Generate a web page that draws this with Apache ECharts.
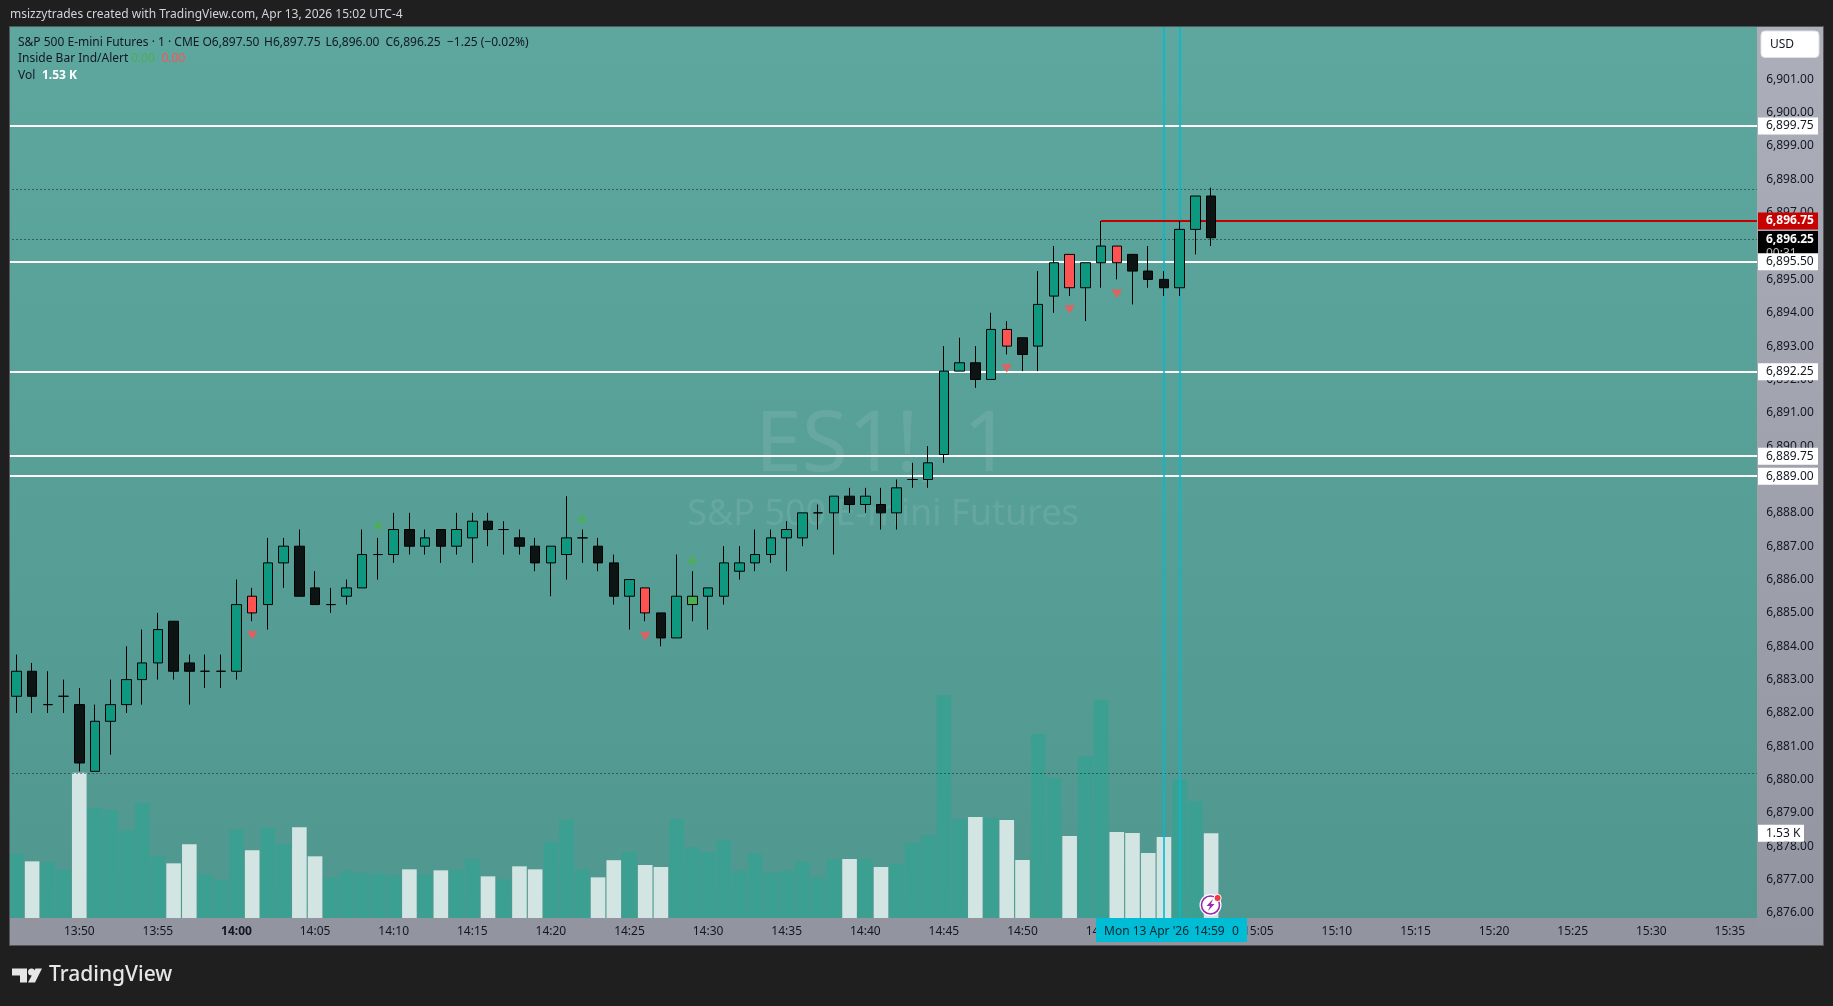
<!DOCTYPE html>
<html><head><meta charset="utf-8"><title>ES1! 1</title>
<style>html,body{margin:0;padding:0;background:#1f1f1f}#c{width:1833px;height:1006px}</style>
<script src="https://cdn.jsdelivr.net/npm/echarts@6/dist/echarts.min.js"></script></head>
<body><div id="c"></div>
<script>
// ---- data (one entry per 1-minute bar, first bar 13:46) ----
const opens=[6882.5,6883.25,6882.25,6882.5,6882.25,6880.25,6881.75,6882.25,6883,6883.5,6884.75,6883.5,6883.25,6883.25,6883.25,6885.5,6885.25,6886.5,6887,6885.75,6885.25,6885.5,6885.75,6886.75,6886.75,6887.5,6887,6887.5,6887,6887.25,6887.75,6887.5,6887.25,6887,6886.5,6886.75,6887.25,6887,6886.5,6885.5,6885.75,6885,6884.25,6885.25,6885.5,6885.5,6886.25,6886.5,6886.75,6887.25,6887.25,6888,6888,6888.5,6888.25,6888.25,6888,6889,6889,6889.75,6892.25,6892.5,6892,6893.5,6893.25,6893,6894.5,6895.75,6894.75,6895.5,6896,6895.75,6895.25,6895,6894.75,6896.5,6897.5];
const closes=[6883.25,6882.5,6882.25,6882.5,6880.5,6881.75,6882.25,6883,6883.5,6884.5,6883.25,6883.25,6883.25,6883.25,6885.25,6885,6886.5,6887,6885.5,6885.25,6885.25,6885.75,6886.75,6886.75,6887.5,6887,6887.25,6887,6887.5,6887.75,6887.5,6887.5,6887,6886.5,6887,6887.25,6887.25,6886.5,6885.5,6886,6885,6884.25,6885.5,6885.5,6885.75,6886.5,6886.5,6886.75,6887.25,6887.5,6888,6888,6888.5,6888.25,6888.5,6888,6888.75,6889,6889.5,6892.25,6892.5,6892,6893.5,6893,6892.75,6894.25,6895.5,6894.75,6895.5,6896,6895.5,6895.25,6895,6894.75,6896.5,6897.5,6896.25];
const lows=[6882,6882,6882,6882,6880.25,6880.25,6880.75,6882,6882.25,6883,6883,6882.25,6882.75,6882.75,6883,6884.75,6884.5,6885.75,6885.5,6885.25,6885,6885.25,6885.75,6886,6886.5,6886.75,6886.75,6886.5,6886.75,6886.5,6887,6886.75,6886.75,6886.25,6885.5,6886,6886.5,6886.25,6885.25,6884.5,6884.75,6884,6884.25,6884.75,6884.5,6885.25,6886,6886.25,6886.5,6886.25,6887,6887.5,6886.75,6888,6888,6887.5,6887.5,6888.75,6888.75,6889.5,6892.25,6891.75,6892,6892.75,6892.25,6892.25,6894,6894.5,6893.75,6894.75,6895,6894.25,6894.75,6894.5,6894.5,6895.75,6896];
const highs=[6883.75,6883.5,6883.25,6883,6882.75,6882.25,6883,6884,6884.5,6885,6884.75,6883.75,6883.75,6883.75,6886,6885.75,6887.25,6887.25,6887.5,6886.25,6885.75,6886,6887.5,6887.25,6888,6888,6887.5,6887.5,6888,6888,6888,6887.75,6887.5,6887.25,6887,6888.5,6887.5,6887.25,6886.75,6886,6885.75,6885,6886.75,6886.25,6885.75,6887,6887,6887.5,6887.5,6887.75,6888,6888.25,6888.5,6888.75,6888.75,6888.75,6889,6889.5,6890,6893,6893.25,6893,6894,6893.75,6893.25,6895.25,6896,6895.75,6895.5,6896.75,6896,6895.75,6896,6895.25,6896.75,6897.5,6897.75];
const volumes=[1150,1023,1005,861,2625,1987,1957,1583,2071,1114,987,1330,789,680,1595,1222,1631,1330,1637,1114,728,843,807,800,770,879,789,861,861,1060,752,698,933,879,1373,1776,873,734,1044,1192,957,921,1788,1276,1192,1415,849,1162,813,849,1023,740,1066,1066,1066,921,981,1348,1493,4027,1788,1824,1812,1770,1047,3323,2534,1481,2926,3937,1553,1535,1174,1463,2492,2107,1530];
const redBodies=[15,40,63,67,70];
const greenBodies=[43];
const downMarkers=[[15,6884.33],[40,6884.3],[63,6892.33],[67,6894.1],[70,6894.57]];
const upMarkers=[[23,6887.65],[36,6887.85],[43,6886.6]];
const whiteLevels=[6899.6,6895.53,6892.23,6889.7,6889.1];
const whiteLevelLabels=['6,899.75','6,895.50','6,892.25','6,889.75','6,889.00'];
const dottedLevels=[6897.7,6896.2,6880.2];
const redLevel=6896.75, lastPrice=6896.2, lastVolume=1530;
const crossBars=[73,74];
const barCount=112, firstMinute=13*60+46;
const categories=Array.from({length:barCount},(_,i)=>{const m=firstMinute+i;return String(Math.floor(m/60)).padStart(2,'0')+':'+String(m%60).padStart(2,'0');});
const legendTitle='S&P 500 E-mini Futures · 1 · CME';
const legendOHLC=['O6,897.50','H6,897.75','L6,896.00','C6,896.25','−1.25 (−0.02%)'];

// ---- layout ----
const F='"Noto Sans",sans-serif', DARK='#131722';
const band=15.72, gridL=8.54, gridW=band*barCount;
const priceMin=6875, priceMax=6903, pxPerPt=33.35, priceTop=79.3-2*pxPerPt, priceBottom=79.3+26*pxPerPt;
const TEAL='#0f9880', BLACK='#0d1414', RED='#ff5252', GREEN='#4caf50';

const candleData=opens.map((o,i)=>{
  const c=closes[i];
  let fill=c>=o?TEAL:BLACK;
  if(redBodies.includes(i))fill=RED;
  if(greenBodies.includes(i))fill=GREEN;
  return {value:[o,c,lows[i],highs[i]],itemStyle:{color:fill,color0:fill,borderColor:'#000',borderColor0:'#000',borderColorDoji:'#000',borderWidth:1}};
});
const volData=volumes.map((v,i)=>({value:v,itemStyle:{color:closes[i]<opens[i]?'#d2e5e2':'#3b9f92'}}));

const tags=[
 ...whiteLevels.map((p,i)=>({p,text:whiteLevelLabels[i],bg:'#fff',fg:DARK,bold:false})),
 {p:redLevel,text:'6,896.75',bg:'#c70000',fg:'#fff',bold:true}
];
function tagRender(params,api){
  const t=tags[params.dataIndex], y=api.coord([0,t.p])[1];
  return {type:'group',children:[
    {type:'rect',shape:{x:1758,y:y-8.5,width:60,height:17},style:{fill:t.bg}},
    {type:'text',style:{x:1766,y:y,text:t.text,fill:t.fg,font:(t.bold?'bold ':'')+'12px '+F,textVerticalAlign:'middle'}}
  ]};
}
function lastRender(params,api){
  const y=api.coord([0,lastPrice])[1];
  return {type:'group',children:[
    {type:'rect',shape:{x:1758,y:y-8.5,width:60,height:31},style:{fill:'#000'}},
    {type:'text',style:{x:1766,y:y,text:'6,896.25',fill:'#fff',font:'bold 12px '+F,textVerticalAlign:'middle'}},
    {type:'text',style:{x:1766,y:y+14,text:'00:31',fill:'#bdbdbd',font:'12px '+F,textVerticalAlign:'middle'}}
  ]};
}
function volTagRender(params,api){
  const y=api.coord([0,lastVolume])[1];
  return {type:'group',children:[
    {type:'rect',shape:{x:1758,y:y-8.5,width:46,height:17},style:{fill:'#fff'}},
    {type:'text',style:{x:1766,y:y,text:'1.53 K',fill:DARK,font:'12px '+F,textVerticalAlign:'middle'}}
  ]};
}
const T=(x,y,text,fill,font,extra)=>Object.assign({type:'text',z:70,silent:true,style:{x,y,text,fill,font:font||('12px '+F),textVerticalAlign:'middle'}},extra||{});
const R=(x,y,w,h,fill,z,r)=>({type:'rect',z:z,silent:true,shape:{x,y,width:w,height:h,r:r||0},style:{fill}});
const grad=(a,b)=>({type:'linear',x:0,y:0,x2:0,y2:1,colorStops:[{offset:0,color:a},{offset:1,color:b}]});

const graphics=[
 R(10,27,1747,891,grad('#5ea79f','#50988f'),-10),
 T(883,447,'ES1!, 1','rgba(255,255,255,0.09)','84px '+F,{z:-5,style:{x:883,y:447,text:'ES1!, 1',fill:'rgba(255,255,255,0.09)',font:'84px '+F,textAlign:'center',textVerticalAlign:'middle'}}),
 T(883,515,'','',null,{z:-5,style:{x:883,y:515,text:'S&P 500 E-mini Futures',fill:'rgba(255,255,255,0.09)',font:'36px '+F,textAlign:'center',textVerticalAlign:'middle'}}),
 // frame and axis panels sit above the marks and below the axis text
 R(0,0,1833,26,'#1f1f1f',40), R(0,26,1833,1,'#555',40),
 R(0,0,9,1006,'#1f1f1f',40), R(9,26,1,920,'#555',40),
 R(0,946,1833,60,'#1f1f1f',40), R(9,945,1815,1,'#555',40),
 R(1824,0,9,1006,'#1f1f1f',40), R(1823,26,1,920,'#555',40),
 R(1757,27,66,918,grad('#acafba','#92959f'),41),
 R(10,918,1747,27,'#92959f',41),
 {type:'rect',z:62,silent:true,shape:{x:1761,y:31,width:58,height:26.5,r:4},style:{fill:'#fff',stroke:'#dfe1e6',lineWidth:1}},
 T(1770,44.5,'USD',DARK),
 // crosshair date box
 R(1096,918,151,24,'#00bcd4',62),
 T(1104,932,"Mon 13 Apr '26",'#0b2530'),T(1194,932,'14:59','#0b2530'),T(1232,932,'0','#0b2530'),
 // header
 T(10,15,'msizzytrades created with TradingView.com, Apr 13, 2026 15:02 UTC-4','#d1d4dc'),
 T(18,42.5,legendTitle,DARK),
 T(202.5,42.5,legendOHLC[0],DARK),T(264,42.5,legendOHLC[1],DARK),T(325.5,42.5,legendOHLC[2],DARK),T(385.5,42.5,legendOHLC[3],DARK),T(447,42.5,legendOHLC[4],DARK),
 T(18,59,'Inside Bar Ind/Alert',DARK),T(131,59,'0.00',GREEN),T(161.5,59,'0.00',RED),
 T(18,76,'Vol',DARK),T(42,76,'1.53 K','#fff','bold 12px '+F),
 // flash icon
 {type:'circle',z:63,silent:true,shape:{cx:1210.5,cy:905,r:11},style:{fill:'#fff'}},
 {type:'circle',z:64,silent:true,shape:{cx:1210.5,cy:905,r:9},style:{fill:'#fff',stroke:'#9c27b0',lineWidth:1.6}},
 {type:'polygon',z:65,silent:true,shape:{points:[[1213,899],[1206.5,906],[1210,906],[1208,911],[1214.5,904],[1211,904]]},style:{fill:'#9c27b0'}},
 {type:'circle',z:66,silent:true,shape:{cx:1217.6,cy:898,r:3.6},style:{fill:'#f23645',stroke:'#fff',lineWidth:1}},
 // logo
 {type:'polygon',z:70,silent:true,shape:{points:[[12,968.5],[27,968.5],[27,982.5],[20,982.5],[20,975.5],[12,975.5]]},style:{fill:'#e6e6e6'}},
 {type:'circle',z:70,silent:true,shape:{cx:31.5,cy:972,r:3.5},style:{fill:'#e6e6e6'}},
 {type:'polygon',z:70,silent:true,shape:{points:[[35.5,968.5],[42,968.5],[35,982.5],[28,982.5]]},style:{fill:'#e6e6e6'}},
 T(49,975.5,'TradingView','#e6e6e6','500 21px '+F)
];

const chart=echarts.init(document.getElementById('c'),null,{renderer:'canvas'});
chart.setOption({
 animation:false,backgroundColor:'#1f1f1f',
 grid:[
  {left:gridL,top:priceTop,width:gridW,height:priceBottom-priceTop},
  {left:gridL,top:27,width:gridW,height:891}
 ],
 xAxis:[
  {type:'category',gridIndex:0,data:categories,show:false},
  {type:'category',gridIndex:1,data:categories,z:50,axisLine:{show:false},axisTick:{show:false},splitLine:{show:false},
   axisLabel:{margin:14,verticalAlign:'middle',color:DARK,fontFamily:F,fontSize:12,
    interval:(i,v)=>Number(v.slice(3))%5===0,
    formatter:v=>v==='14:00'?'{b|14:00}':v,
    rich:{b:{fontWeight:'bold',fontFamily:F,fontSize:12,color:DARK}}}}
 ],
 yAxis:[
  {type:'value',gridIndex:0,position:'right',min:priceMin,max:priceMax,interval:1,z:50,scale:true,
   axisLine:{show:false},axisTick:{show:false},splitLine:{show:false},
   axisLabel:{margin:-3,align:'left',color:DARK,fontFamily:F,fontSize:12,
    formatter:v=>(v<6876||v>6901)?'':v.toLocaleString('en-US',{minimumFractionDigits:2,maximumFractionDigits:2})}},
  {type:'value',gridIndex:1,min:0,max:16091,show:false,splitLine:{show:false}}
 ],
 series:[
  {type:'bar',name:'Vol',xAxisIndex:1,yAxisIndex:1,data:volData,barWidth:14.6,z:1,silent:true},
  {type:'line',name:'Levels',xAxisIndex:0,yAxisIndex:0,data:[],z:2,silent:true,
   markLine:{silent:true,symbol:'none',animation:false,label:{show:false},z:2,data:[
    ...whiteLevels.map(v=>({yAxis:v,lineStyle:{color:'#fff',width:2,type:'solid'}})),
    ...dottedLevels.map(v=>({yAxis:v,lineStyle:{color:'#0c1f1f',width:1,type:[1,3]}})),
    ...crossBars.map(i=>({xAxis:categories[i],lineStyle:{color:'#00bcd4',width:1.6,type:'solid'}})),
    [{coord:[categories[69],redLevel],lineStyle:{color:'#c20000',width:2,type:'solid'}},{coord:[categories[barCount-1],redLevel]}]
   ]}},
  {type:'candlestick',name:'ES1!',xAxisIndex:0,yAxisIndex:0,data:candleData,barWidth:10,z:5,silent:true},
  {type:'scatter',name:'Inside down',xAxisIndex:0,yAxisIndex:0,data:downMarkers,symbol:'triangle',symbolRotate:180,symbolSize:[10.5,8.5],itemStyle:{color:RED},z:6,silent:true},
  {type:'scatter',name:'Inside up',xAxisIndex:0,yAxisIndex:0,data:upMarkers,symbol:'triangle',symbolSize:[10.5,8.5],itemStyle:{color:GREEN},z:6,silent:true},
  {type:'custom',name:'Price tags',xAxisIndex:0,yAxisIndex:0,clip:false,z:61,silent:true,renderItem:tagRender,data:tags.map(t=>[0,t.p])},
  {type:'custom',name:'Last price',xAxisIndex:0,yAxisIndex:0,clip:false,z:60,silent:true,renderItem:lastRender,data:[[0,lastPrice]]},
  {type:'custom',name:'Volume tag',xAxisIndex:1,yAxisIndex:1,clip:false,z:60,silent:true,renderItem:volTagRender,data:[[0,lastVolume]]}
 ],
 graphic:{elements:graphics}
});
</script></body></html>
